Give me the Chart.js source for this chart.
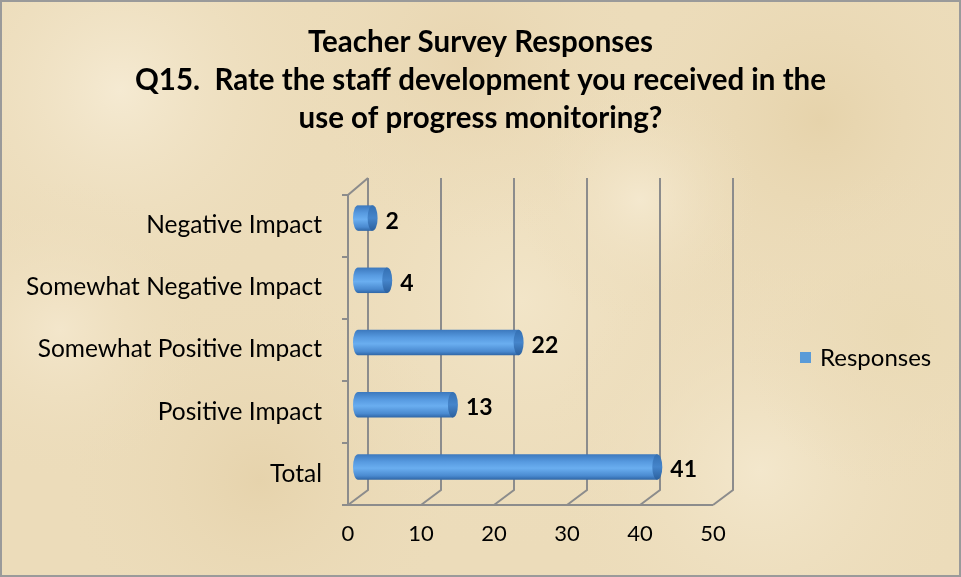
<!DOCTYPE html>
<html>
<head>
<meta charset="utf-8">
<script src="https://cdn.jsdelivr.net/npm/chart.js@4/dist/chart.umd.min.js"></script>
<style>
  html, body { margin: 0; padding: 0; background: #efe3c6; }
  #wrap { width: 961px; height: 577px; position: relative; }
</style>
</head>
<body>
<div id="wrap"><canvas id="chart" width="961" height="577"></canvas></div>
<script>
const categories = ['Negative Impact', 'Somewhat Negative Impact', 'Somewhat Positive Impact', 'Positive Impact', 'Total'];
const responses = [2, 4, 22, 13, 41];
const xTicks = [0, 10, 20, 30, 40, 50];
const titleLines = ['Teacher Survey Responses', 'Q15.  Rate the staff development you received in the', 'use of progress monitoring?'];
const seriesName = 'Responses';
const seriesColor = '#5a9bd8';

const FONT = 'Lato, "Open Sans", sans-serif';
const DX = 10; // half depth of the 3D frame, horizontal

// parchment background
const parchment = {
  id: 'parchment',
  beforeDraw(chart) {
    const c = chart.ctx, w = chart.width, h = chart.height;
    c.save();
    c.fillStyle = '#ecdcba';
    c.fillRect(0, 0, w, h);
    const spots = [[120, 90, 220, '#f5ead2'], [520, 300, 260, '#f2e5c8'], [820, 120, 200, '#e6d3ab'],
                   [260, 480, 200, '#e6d3ac'], [760, 470, 220, '#f3e7cc'], [470, 60, 180, '#e8d5b0'],
                   [60, 330, 150, '#f3e6cb'], [900, 330, 160, '#eadab5'], [640, 200, 120, '#f4e8ce']];
    spots.forEach(([x, y, r, col]) => {
      const g = c.createRadialGradient(x, y, 0, x, y, r);
      g.addColorStop(0, col);
      g.addColorStop(1, 'rgba(236,220,186,0)');
      c.fillStyle = g;
      c.fillRect(0, 0, w, h);
    });
    c.strokeStyle = '#9a9a9a';
    c.lineWidth = 2;
    c.strokeRect(1, 1, w - 2, h - 2);
    c.restore();
  }
};

// 3D frame: back wall gridlines, floor and left wall
const frame3d = {
  id: 'frame3d',
  beforeDatasetsDraw(chart) {
    const c = chart.ctx, xs = chart.scales.x, a = chart.chartArea;
    const topB = a.top - 9, topF = a.top + 8, floorB = a.bottom - 8, floorF = a.bottom + 7;
    c.save();
    c.strokeStyle = '#8c8c8c';
    c.lineWidth = 2;
    xTicks.forEach(v => {
      const px = xs.getPixelForValue(v);
      c.beginPath();
      c.moveTo(px + DX, topB);
      c.lineTo(px + DX, floorB);
      c.lineTo(px - DX, floorF);
      c.stroke();
    });
    c.beginPath();
    c.moveTo(xs.getPixelForValue(0) - DX, floorF);
    c.lineTo(xs.getPixelForValue(50) - DX, floorF);
    c.stroke();
    const x0 = xs.getPixelForValue(0);
    c.beginPath();
    c.moveTo(x0 + DX, topB);
    c.lineTo(x0 - DX, topF);
    c.lineTo(x0 - DX, floorF);
    c.stroke();
    const n = categories.length;
    for (let i = 0; i <= n; i++) {
      const y = topF + (floorF - topF) * i / n;
      c.beginPath();
      c.moveTo(x0 - DX - 6, y);
      c.lineTo(x0 - DX, y);
      c.stroke();
    }
    c.restore();
  },
  afterDatasetsDraw(chart) {
    const c = chart.ctx;
    c.save();
    chart.getDatasetMeta(0).data.forEach((el, i) => {
      const ry = el.height / 2, rx = 5;
      c.fillStyle = el.options.backgroundColor;
      c.beginPath();
      c.ellipse(el.base, el.y, rx, ry, 0, Math.PI / 2, Math.PI * 1.5);
      c.fill();
      const g = c.createLinearGradient(0, el.y - ry, 0, el.y + ry);
      g.addColorStop(0, '#3470b3');
      g.addColorStop(0.5, '#4585cb');
      g.addColorStop(1, '#2b609e');
      c.fillStyle = g;
      c.beginPath();
      c.ellipse(el.x, el.y, rx, ry, 0, 0, Math.PI * 2);
      c.fill();
      c.fillStyle = '#000';
      c.font = 'bold 23px ' + FONT;
      c.textAlign = 'left';
      c.textBaseline = 'middle';
      c.fillText(String(responses[i]), el.x + 13, el.y + 3);
    });
    c.restore();
  }
};

// legend drawn at the right side
const sideLegend = {
  id: 'sideLegend',
  afterDraw(chart) {
    const c = chart.ctx;
    c.save();
    c.fillStyle = seriesColor;
    c.fillRect(800, 352, 11, 11);
    c.fillStyle = '#000';
    c.font = '24px ' + FONT;
    c.textAlign = 'left';
    c.textBaseline = 'middle';
    c.fillText(chart.data.datasets[0].label, 820, 358);
    c.restore();
  }
};

function cylinderFill(ctx) {
  const chart = ctx.chart, ys = chart.scales.y;
  if (!ys || ctx.dataIndex === undefined) return seriesColor;
  const yc = ys.getPixelForValue(ctx.dataIndex);
  const half = ys.height / categories.length * 0.5 * 0.82 / 2;
  if (!isFinite(yc) || !isFinite(half) || half <= 0) return seriesColor;
  const g = chart.ctx.createLinearGradient(0, yc - half, 0, yc + half);
  g.addColorStop(0, '#3c78bd');
  g.addColorStop(0.3, '#579ae0');
  g.addColorStop(0.55, '#6aaef0');
  g.addColorStop(0.85, '#4a8ad0');
  g.addColorStop(1, '#2f66a6');
  return g;
}

function draw() {
  new Chart(document.getElementById('chart'), {
    type: 'bar',
    data: {
      labels: categories,
      datasets: [{
        label: seriesName,
        data: responses,
        backgroundColor: cylinderFill,
        borderWidth: 0,
        barPercentage: 0.82,
        categoryPercentage: 0.5
      }]
    },
    options: {
      indexAxis: 'y',
      responsive: false,
      animation: false,
      layout: { padding: 0 },
      scales: {
        x: {
          min: 0, max: 50,
          afterBuildTicks: s => { s.ticks = xTicks.map(v => ({ value: v })); },
          afterFit: s => { s.height = 79; },
          grid: { display: false, drawTicks: false },
          border: { display: false },
          ticks: { color: '#000', font: { family: FONT, size: 22 }, padding: 23, labelOffset: -DX }
        },
        y: {
          afterFit: s => { s.width = 358; },
          grid: { display: false, drawTicks: false },
          border: { display: false },
          ticks: { color: '#000', font: { family: FONT, size: 24.5 }, padding: 36, labelOffset: 7 }
        },
        // empty axis that reserves the room on the right where the legend sits
        legendRoom: {
          type: 'linear',
          axis: 'y',
          position: 'right',
          afterFit: s => { s.width = 238; },
          grid: { display: false, drawTicks: false },
          border: { display: false },
          ticks: { display: false }
        }
      },
      plugins: {
        title: {
          display: true,
          text: titleLines,
          color: '#000',
          font: { family: FONT, size: 29.5, weight: 'bold', lineHeight: 38 / 29.5 },
          padding: { top: 23, bottom: 50 }
        },
        legend: { display: false },
        tooltip: { enabled: false }
      }
    },
    plugins: [parchment, frame3d, sideLegend]
  });
}

Promise.all([
  document.fonts.load('24px Lato'),
  document.fonts.load('bold 24px Lato')
]).then(draw, draw);
</script>
</body>
</html>
